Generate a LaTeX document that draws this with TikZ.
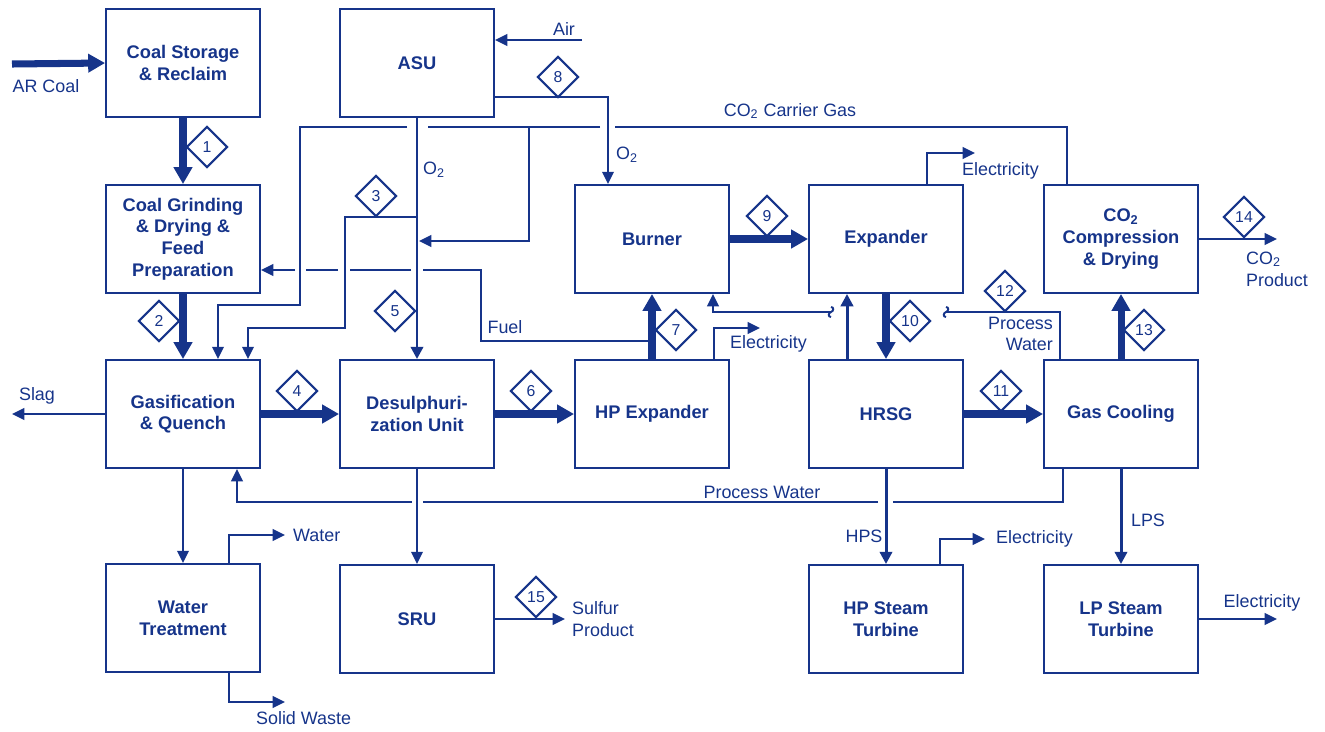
\documentclass[tikz,border=0pt]{standalone}
\usepackage{fontspec}
\setmainfont{Liberation Sans}
\usetikzlibrary{shapes.geometric, arrows.meta, positioning}

\definecolor{plantblue}{RGB}{22,52,138}

\tikzset{
    unit/.style={draw, rectangle, line width=1.1pt, minimum width=3.08cm, minimum height=2.16cm,
        align=center, font=\fontsize{10.4}{12.3}\selectfont\bfseries},
    tag/.style={draw, diamond, line width=1.2pt, minimum size=0.82cm, inner sep=0pt,
        font=\fontsize{9}{10}\selectfont},
    lbl/.style={inner sep=1pt, font=\fontsize{10.2}{12.4}\selectfont},
    flow/.style={line width=1.15pt, -{Triangle[length=7pt, width=6.6pt]}},
    mid/.style={line width=1.7pt, -{Triangle[length=7pt, width=7pt]}},
    main/.style={line width=4pt, -{Triangle[length=9.6pt, width=10.2pt]}},
    brk/.pic={\draw[line width=1.1pt] (0,-5) .. controls (3,-5) and (3,-1) .. (0,0)
        .. controls (-3,1) and (-3,5) .. (0,5);}
}

\begin{document}
\begin{tikzpicture}[x=0.02cm, y=-0.02cm, color=plantblue]
    \useasboundingbox (0,0) rectangle (1325,731);

    % Units
    \node[unit] (store) at (183,63) {Coal Storage\\\& Reclaim};
    \node[unit] (asu) at (417,63) {ASU};
    \node[unit] (grind) at (183,239) {Coal Grinding\\\& Drying \&\\Feed\\Preparation};
    \node[unit] (burner) at (652,239) {Burner};
    \node[unit] (expander) at (886,239) {Expander};
    \node[unit] (comp) at (1121,239) {CO\textsubscript{2}\\Compression\\\& Drying};
    \node[unit] (gasif) at (183,414) {Gasification\\\& Quench};
    \node[unit] (desulph) at (417,414) {Desulphuri-\\zation Unit};
    \node[unit] (hpexp) at (652,414) {HP Expander};
    \node[unit] (hrsg) at (886,414) {HRSG};
    \node[unit] (cool) at (1121,414) {Gas Cooling};
    \node[unit] (wtreat) at (183,618) {Water\\Treatment};
    \node[unit] (sru) at (417,619) {SRU};
    \node[unit] (hpst) at (886,619) {HP Steam\\Turbine};
    \node[unit] (lpst) at (1121,619) {LP Steam\\Turbine};

    % Free ends
    \coordinate (coalIn) at (12,64);
    \coordinate (airIn) at (582,40);
    \coordinate (slagOut) at (12,414);
    \coordinate (waterOut) at (285,535);
    \coordinate (solidOut) at (285,702);
    \coordinate (sulfOut) at (565,619);
    \coordinate (mixO2) at (419,241);
    \coordinate (elecA) at (760,328);
    \coordinate (elecB) at (975,153);
    \coordinate (elecC) at (985,539);
    \coordinate (elecD) at (1277,619);
    \coordinate (co2Out) at (1277,239);
    \coordinate (brkA) at (831,312);
    \coordinate (brkB) at (946,312);

    % Main gas path
    \draw[main] (coalIn) -- (store.west);
    \draw[main] (store) -- (grind);
    \draw[main] (grind) -- (gasif);
    \draw[main] (gasif) -- (desulph);
    \draw[main] (desulph) -- (hpexp);
    \draw[main] (hpexp) -- (burner);
    \draw[main] (burner) -- (expander);
    \draw[main] (expander) -- (hrsg);
    \draw[main] (hrsg) -- (cool);
    \draw[main] (cool) -- (comp);

    % Oxygen and air
    \draw[flow] (airIn) -- (asu.east |- airIn);
    \draw[mid] (asu) -- (desulph);
    \draw[flow] (asu.east |- 0,97) -| (burner.north -| 608,0);
    \draw[flow] (417,217) -| (345,328) -| (gasif.north -| 248,0);

    % CO2 carrier gas
    \draw[flow] (comp.north -| 1067,0) |- (615,127) (600,127) -- (428,127)
        (407,127) -| (300,305) -| (gasif.north -| 218,0);
    \draw[flow] (529,127) |- (mixO2);

    % Fuel
    \draw[flow] (hpexp.north |- 0,341) -| (481,270) -- (423,270) (411,270) -- (350,270)
        (338,270) -- (306,270) (295,270) -- (grind.east |- 0,270);

    % Process water
    \draw[flow] (brkA) -| (burner.south -| 713,0);
    \pic at (brkA) {brk};
    \draw[line width=1.15pt] (cool.north -| 1060,0) |- (brkB);
    \pic at (brkB) {brk};
    \draw[flow] (cool.south -| 1063,0) |- (893,502) (878,502) -- (423,502)
        (412,502) -| (gasif.south -| 237,0);
    \draw[mid] (hrsg.north -| 847,0) -- (expander.south -| 847,0);

    % Products and side streams
    \draw[flow] (gasif) -- (slagOut);
    \draw[flow] (gasif) -- (wtreat);
    \draw[flow] (wtreat.north -| 229,0) |- (waterOut);
    \draw[flow] (wtreat.south -| 229,0) |- (solidOut);
    \draw[flow] (desulph) -- (sru);
    \draw[flow] (sru) -- (sulfOut);
    \draw[mid] (hrsg) -- (hpst);
    \draw[mid] (cool) -- (lpst);
    \draw[flow] (comp) -- (co2Out);
    \draw[flow] (hpexp.north -| 714,0) |- (elecA);
    \draw[flow] (expander.north -| 927,0) |- (elecB);
    \draw[flow] (hpst.north -| 940,0) |- (elecC);
    \draw[flow] (lpst) -- (elecD);

    % Stream numbers
    \node[tag] (s1) at (207,147) {1};
    \node[tag] (s2) at (159,321) {2};
    \node[tag] (s3) at (376,196) {3};
    \node[tag] (s4) at (297,391) {4};
    \node[tag] (s5) at (395,311) {5};
    \node[tag] (s6) at (531,391) {6};
    \node[tag] (s7) at (676,330) {7};
    \node[tag] (s8) at (558,77) {8};
    \node[tag] (s9) at (767,216) {9};
    \node[tag] (s10) at (910,321) {10};
    \node[tag] (s11) at (1001,391) {11};
    \node[tag] (s12) at (1005,291) {12};
    \node[tag] (s13) at (1144,330) {13};
    \node[tag] (s14) at (1244,217) {14};
    \node[tag] (s15) at (536,597) {15};

    % Labels
    \node[lbl] (lCoal) at (46,86) {AR Coal};
    \node[lbl] (lAir) at (564,29) {Air};
    \node[lbl] (lSlag) at (37,396) {Slag};
    \node[lbl, anchor=west] (lO2a) at (421,170) {O\textsubscript{2}};
    \node[lbl, anchor=west] (lO2b) at (614,155) {O\textsubscript{2}};
    \node[lbl] (lCarrier) at (790,111) {CO\textsubscript{2} Carrier Gas};
    \node[lbl] (lFuel) at (505,327) {Fuel};
    \node[lbl, anchor=west] (lElecA) at (728,344) {Electricity};
    \node[lbl, anchor=west] (lElecB) at (960,171) {Electricity};
    \node[lbl, anchor=west] (lElecC) at (994,539) {Electricity};
    \node[lbl] (lElecD) at (1262,603) {Electricity};
    \node[lbl, align=right, anchor=east] (lPw1) at (1055,334) {Process\\Water};
    \node[lbl] (lPw2) at (762,492) {Process Water};
    \node[lbl, anchor=west] (lWater) at (291,535) {Water};
    \node[lbl, anchor=west] (lSolid) at (254,718) {Solid Waste};
    \node[lbl, align=left, anchor=west] (lSulf) at (570,619) {Sulfur\\Product};
    \node[lbl] (lHps) at (864,536) {HPS};
    \node[lbl] (lLps) at (1148,520) {LPS};
    \node[lbl, align=left, anchor=west] (lCo2) at (1244,269) {CO\textsubscript{2}\\Product};
\end{tikzpicture}
\end{document}
